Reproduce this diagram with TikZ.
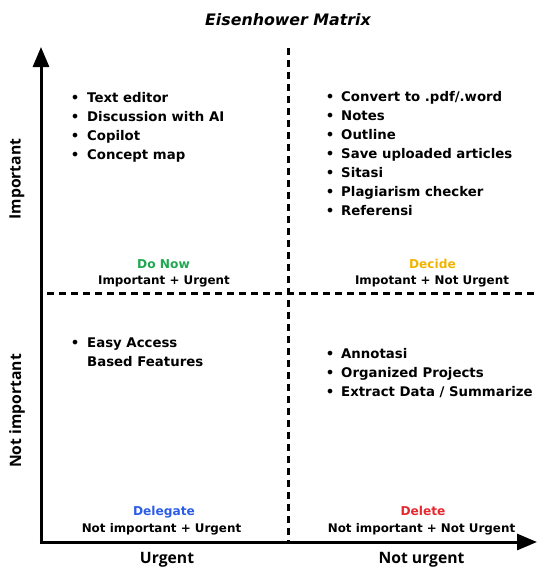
\documentclass[tikz,border=0pt]{standalone}
\usepackage{fontspec}
\setmainfont{DejaVu Sans}
\newfontfamily\axfont{Open Sans}
\usetikzlibrary{arrows.meta}
\definecolor{cgreen}{HTML}{1DA851}
\definecolor{cyellow}{HTML}{F0B400}
\definecolor{cblue}{HTML}{2B5CE6}
\definecolor{cred}{HTML}{E5282E}
\tikzset{
  axis/.style={line width=3pt,-{Triangle[length=20pt,width=16pt]}},
  divider/.style={line width=3pt,dash pattern=on 7pt off 5pt},
  itemtxt/.style={anchor=base west,inner sep=0pt,font=\fontsize{13.3}{19}\selectfont\bfseries},
  bul/.style={anchor=base,inner sep=0pt,font=\fontsize{13.3}{19}\selectfont\bfseries},
  qname/.style={anchor=base,inner sep=0pt,font=\fontsize{12.2}{15}\selectfont\bfseries},
  qsub/.style={anchor=base,inner sep=0pt,font=\fontsize{11.9}{15}\selectfont\bfseries},
  axlabel/.style={inner sep=0pt,font=\fontsize{15.7}{18}\selectfont\axfont\bfseries},
}
\begin{document}
\begin{tikzpicture}[x=1pt,y=-1pt]
\useasboundingbox (0,0) rectangle (537,570);
\node[anchor=base,inner sep=0pt,font=\fontsize{15.8}{19}\selectfont\bfseries\itshape] (title) at (288,25.5) {Eisenhower Matrix};
% axes
\coordinate (origin) at (41,542);
\coordinate (ytip) at (41,47);
\coordinate (xtip) at (537,542);
\coordinate (vtop) at (288,48);
\coordinate (vbot) at (288,542);
\coordinate (hl) at (47,293);
\coordinate (hr) at (537,293);
\draw[divider] (vtop) -- (vbot);
\draw[divider] (hl) -- (hr);
\draw[axis] ([yshift=1.5pt]origin) -- (ytip);
\draw[axis] ([xshift=-1.5pt]origin) -- (xtip);
% axis labels
\node[axlabel,rotate=90] (imp) at (17,179) {Important};
\node[axlabel,rotate=90] (nimp) at (17,411) {Not important};
\node[axlabel,anchor=base] (urg) at (167,563) {Urgent};
\node[axlabel,anchor=base] (nurg) at (421.5,563) {Not urgent};
% top-left
\foreach \t [count=\i from 0] in {Text editor,Discussion with AI,Copilot,Concept map}{
  \node[bul] (tlb\i) at (75,102.5+19*\i) {•};
  \node[itemtxt] (tl\i) at (87,102.5+19*\i) {\t};
}
% top-right
\foreach \t [count=\i from 0] in {Convert to .pdf/.word,Notes,Outline,Save uploaded articles,Sitasi,Plagiarism checker,Referensi}{
  \node[bul] (trb\i) at (330,101.5+19*\i) {•};
  \node[itemtxt] (tr\i) at (341,101.5+19*\i) {\t};
}
% bottom-left
\node[bul] (blb0) at (75,347.5) {•};
\node[itemtxt] (bl0) at (87,347.5) {Easy Access};
\node[itemtxt] (bl1) at (87,366.5) {Based Features};
% bottom-right
\foreach \t [count=\i from 0] in {Annotasi,Organized Projects,Extract Data / Summarize}{
  \node[bul] (brb\i) at (330,358.5+19*\i) {•};
  \node[itemtxt] (br\i) at (341,358.5+19*\i) {\t};
}
% quadrant names
\node[qname,text=cgreen] (donow) at (163.5,268.5) {Do Now};
\node[qsub] (donows) at (164,284.5) {Important + Urgent};
\node[qname,text=cyellow] (decide) at (432.5,268.5) {Decide};
\node[qsub] (decides) at (432,284.5) {Impotant + Not Urgent};
\node[qname,text=cblue] (deleg) at (164,515.5) {Delegate};
\node[qsub] (delegs) at (161.5,532.5) {Not important + Urgent};
\node[qname,text=cred] (delete) at (423,515.5) {Delete};
\node[qsub] (deletes) at (421.5,532.5) {Not important + Not Urgent};
\end{tikzpicture}
\end{document}
